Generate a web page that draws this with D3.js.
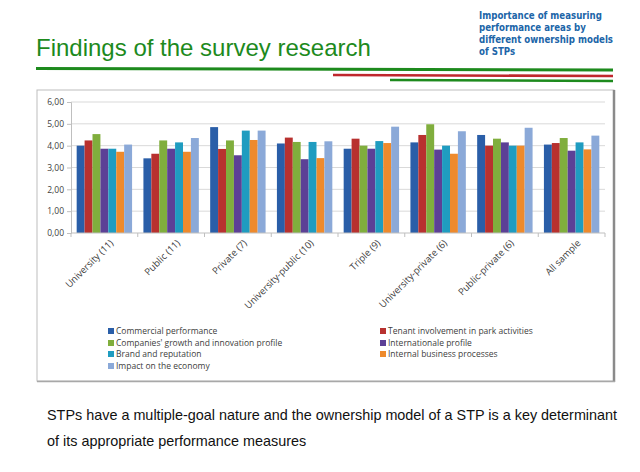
<!DOCTYPE html>
<html>
<head>
<meta charset="utf-8">
<script src="https://cdn.jsdelivr.net/npm/d3@7"></script>
<style>
  body { margin: 0; background: #fff; }
  svg { display: block; }
</style>
</head>
<body>
<div id="chart"></div>
<script>
// Data
var categories = ["University (11)", "Public (11)", "Private (7)", "University-public (10)",
                  "Triple (9)", "University-private (6)", "Public-private (6)", "All sample"];
var seriesNames = ["Commercial performance", "Tenant involvement in park activities",
                   "Companies' growth and innovation profile", "Internationale profile",
                   "Brand and reputation", "Internal business processes", "Impact on the economy"];
var commercial    = [4.00, 3.42, 4.85, 4.10, 3.86, 4.15, 4.49, 4.05];
var tenant        = [4.24, 3.63, 3.85, 4.37, 4.32, 4.49, 4.00, 4.12];
var growth        = [4.53, 4.24, 4.24, 4.17, 4.00, 4.98, 4.32, 4.35];
var international = [3.86, 3.86, 3.56, 3.38, 3.86, 3.82, 4.15, 3.77];
var brand         = [3.86, 4.15, 4.69, 4.17, 4.21, 4.00, 4.00, 4.15];
var internal      = [3.72, 3.72, 4.26, 3.43, 4.12, 3.63, 4.00, 3.83];
var economy       = [4.05, 4.35, 4.69, 4.20, 4.87, 4.66, 4.82, 4.46];
var yTicks = [0, 1, 2, 3, 4, 5, 6];
var colors = ["#2a5ea8", "#b8312f", "#80ae3d", "#5c4096", "#1f9cc0", "#ee8a2c", "#8ba9d8"];

var series = [commercial, tenant, growth, international, brand, internal, economy];

var svg = d3.select("#chart").append("svg")
    .attr("width", 640)
    .attr("height", 472);

// Header
svg.append("text")
    .attr("x", 36).attr("y", 56)
    .attr("font-family", "Liberation Sans, Arial, sans-serif")
    .attr("font-size", 24)
    .attr("fill", "#1d8a1d")
    .text("Findings of the survey research");

var note = ["Importance of measuring", "performance areas by", "different ownership models", "of STPs"];
svg.append("g").selectAll("text").data(note).join("text")
    .attr("x", 479)
    .attr("y", function(d, i) { return 19 + i * 12; })
    .attr("font-family", "DejaVu Sans Condensed, DejaVu Sans, sans-serif")
    .attr("font-size", 9.6)
    .attr("font-weight", "bold")
    .attr("fill", "#2065a8")
    .text(function(d) { return d; });

svg.append("line").attr("x1", 36).attr("x2", 613).attr("y1", 68.5).attr("y2", 70)
    .attr("stroke", "#1d8a1d").attr("stroke-width", 3);
svg.append("line").attr("x1", 333).attr("x2", 613).attr("y1", 75).attr("y2", 76)
    .attr("stroke", "#c0272d").attr("stroke-width", 2.5);
svg.append("line").attr("x1", 390).attr("x2", 613).attr("y1", 80).attr("y2", 81)
    .attr("stroke", "#1d8a1d").attr("stroke-width", 2.5);

// Chart frame
svg.append("rect")
    .attr("x", 37).attr("y", 90)
    .attr("width", 577).attr("height", 291)
    .attr("fill", "#fff")
    .attr("stroke", "#bdbdbd")
    .attr("stroke-width", 1);
svg.append("line").attr("x1", 614).attr("x2", 614).attr("y1", 90).attr("y2", 382)
    .attr("stroke", "#8a8a8a").attr("stroke-width", 2.5);
svg.append("line").attr("x1", 37).attr("x2", 615).attr("y1", 381.5).attr("y2", 381.5)
    .attr("stroke", "#a8a8a8").attr("stroke-width", 1.5);

var margin = { left: 71, right: 605, top: 102, bottom: 233 };

var x0 = d3.scaleBand()
    .domain(categories)
    .range([margin.left, margin.right])
    .paddingInner(0.17)
    .paddingOuter(0.085);

var x1 = d3.scaleBand()
    .domain(d3.range(series.length))
    .range([0, x0.bandwidth()]);

var y = d3.scaleLinear()
    .domain([0, 6])
    .range([margin.bottom, margin.top]);

// Gridlines
svg.append("g").selectAll("line").data(yTicks.slice(1)).join("line")
    .attr("x1", margin.left).attr("x2", margin.right)
    .attr("y1", function(d) { return y(d); })
    .attr("y2", function(d) { return y(d); })
    .attr("stroke", "#d9d9d9");

// Bars
var groups = svg.append("g").selectAll("g").data(categories).join("g")
    .attr("transform", function(d) { return "translate(" + x0(d) + ",0)"; });

groups.selectAll("rect")
    .data(function(d, ci) { return series.map(function(s, si) { return { si: si, v: s[ci] }; }); })
    .join("rect")
    .attr("x", function(d) { return x1(d.si); })
    .attr("width", x1.bandwidth())
    .attr("y", function(d) { return y(d.v); })
    .attr("height", function(d) { return y(0) - y(d.v); })
    .attr("fill", function(d) { return colors[d.si]; });

// Y axis
var yAxis = svg.append("g")
    .attr("transform", "translate(" + margin.left + ",0)")
    .call(d3.axisLeft(y).tickValues(yTicks).tickSize(4).tickPadding(3)
        .tickFormat(function(d) { return d3.format(".2f")(d).replace(".", ","); }));
yAxis.select(".domain").attr("stroke", "#bfbfbf");
yAxis.selectAll(".tick line").attr("stroke", "#bfbfbf");
yAxis.selectAll("text")
    .attr("font-family", "Open Sans, sans-serif")
    .attr("font-size", 8.5)
    .attr("fill", "#404040");

// X axis
var step = x0.step();
var xAxis = svg.append("g").attr("transform", "translate(0," + margin.bottom + ")");
xAxis.append("line")
    .attr("x1", margin.left).attr("x2", margin.right)
    .attr("stroke", "#bfbfbf");
xAxis.selectAll(".sep").data(d3.range(categories.length + 1)).join("line")
    .attr("class", "sep")
    .attr("x1", function(i) { return margin.left + i * step; })
    .attr("x2", function(i) { return margin.left + i * step; })
    .attr("y1", 0).attr("y2", 4)
    .attr("stroke", "#bfbfbf");
xAxis.selectAll("text").data(categories).join("text")
    .attr("transform", function(d) {
        return "translate(" + (x0(d) + x0.bandwidth() / 2 + 5) + ",6) rotate(-45)";
    })
    .attr("text-anchor", "end")
    .attr("dy", "0.7em")
    .attr("font-family", "Open Sans, sans-serif")
    .attr("font-size", 9.5)
    .attr("fill", "#404040")
    .text(function(d) { return d; });

// Legend
var legendPos = [[108, 331], [380, 331], [108, 343], [380, 343], [108, 354], [380, 354], [108, 366]];
var legend = svg.append("g").selectAll("g").data(seriesNames).join("g")
    .attr("transform", function(d, i) { return "translate(" + legendPos[i][0] + "," + legendPos[i][1] + ")"; });
legend.append("rect")
    .attr("x", 0).attr("y", -3)
    .attr("width", 6).attr("height", 6)
    .attr("fill", function(d, i) { return colors[i]; });
legend.append("text")
    .attr("x", 8).attr("y", 3)
    .attr("font-family", "Open Sans, sans-serif")
    .attr("font-size", 8.5)
    .attr("fill", "#404040")
    .text(function(d) { return d; });

// Caption
var caption = ["STPs have a multiple-goal nature and the ownership model of a STP is a key determinant",
               "of its appropriate performance measures"];
svg.append("g").selectAll("text").data(caption).join("text")
    .attr("x", 47)
    .attr("y", function(d, i) { return 420 + i * 26; })
    .attr("font-family", "Liberation Sans, Arial, sans-serif")
    .attr("font-size", 14.4)
    .attr("fill", "#111")
    .text(function(d) { return d; });
</script>
</body>
</html>
